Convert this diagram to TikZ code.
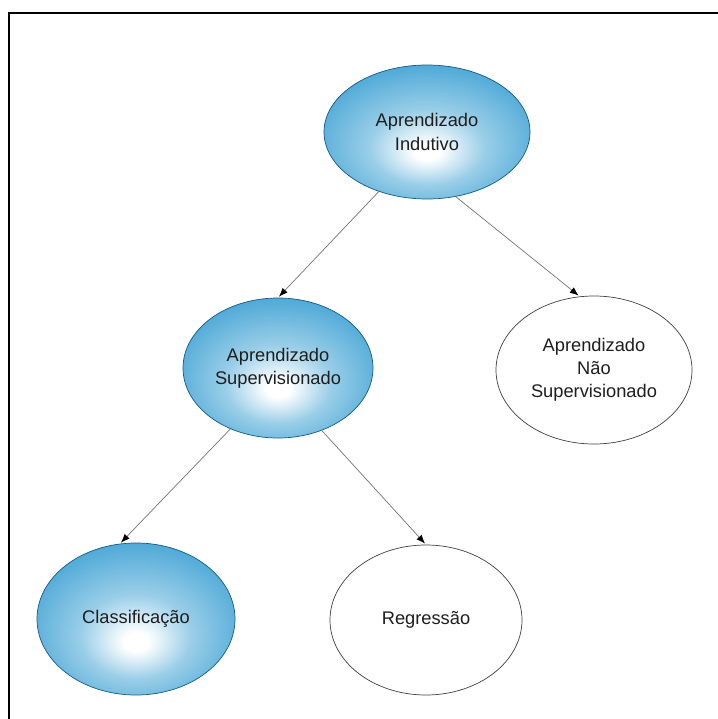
\documentclass[tikz,border=0pt]{standalone}
\usepackage{fontspec}
\setmainfont{Liberation Sans}
\usepackage{tikz}
\usetikzlibrary{positioning}
\usetikzlibrary{arrows.meta}
\usetikzlibrary{shapes}

\definecolor{bulbblue}{RGB}{30,146,204}
\definecolor{rimblue}{RGB}{20,90,135}
\definecolor{textgray}{RGB}{30,30,30}
\pgfdeclareradialshading{bulb}{\pgfpoint{0bp}{-8bp}}{%
  color(0bp)=(white); color(3bp)=(white);
  color(14bp)=(white!55!bulbblue); color(38bp)=(bulbblue);
  color(50bp)=(bulbblue)}

\tikzset{
  tema/.style={ellipse,inner sep=0pt,align=center,text=textgray,
    font=\fontsize{13}{16.5}\selectfont},
  cheio/.style={tema,draw=rimblue,line width=0.5pt,shading=bulb},
  vazio/.style={tema,draw=black!75,line width=0.5pt,fill=white},
  liga/.style={draw=black!55,line width=0.5pt}
}

\begin{document}
\begin{tikzpicture}[shorten >=1pt,>={Latex[length=2.2mm,width=1.7mm,color=black]},on grid]
   \useasboundingbox (0,0) rectangle (17.95,-17.975);
   \clip (0,0) rectangle (17.95,-17.975);
   \draw[line width=1.4pt] (0.225,-19) -- (0.225,-0.325) -- (19,-0.325);

   \node[cheio,minimum width=5.15cm,minimum height=3.35cm] (indu) at (10.675,-3.3) {Aprendizado\\Indutivo};
   \node[cheio,minimum width=4.75cm,minimum height=3.5cm] (sup) [below left=5.9cm and 3.725cm of indu] {Aprendizado\\Supervisionado};
   \node[vazio,minimum width=4.9cm,minimum height=3.7cm] (nsup) [below right=5.95cm and 4.175cm of indu] {Aprendizado\\Não\\Supervisionado};
   \node[cheio,minimum width=4.95cm,minimum height=3.8cm] (class) [below left=6.275cm and 3.55cm of sup] {Classificação};
   \node[vazio,minimum width=4.8cm,minimum height=3.75cm] (regr) [below right=6.3cm and 3.7cm of sup] {Regressão};

    \path[->]
    (indu.-129) edge [liga] (sup.north)
    (indu.-66)  edge [liga] (nsup.101)

    (sup.-128)  edge [liga] (class.102)
    (sup.-55)   edge [liga] (regr.north);
\end{tikzpicture}
\end{document}
